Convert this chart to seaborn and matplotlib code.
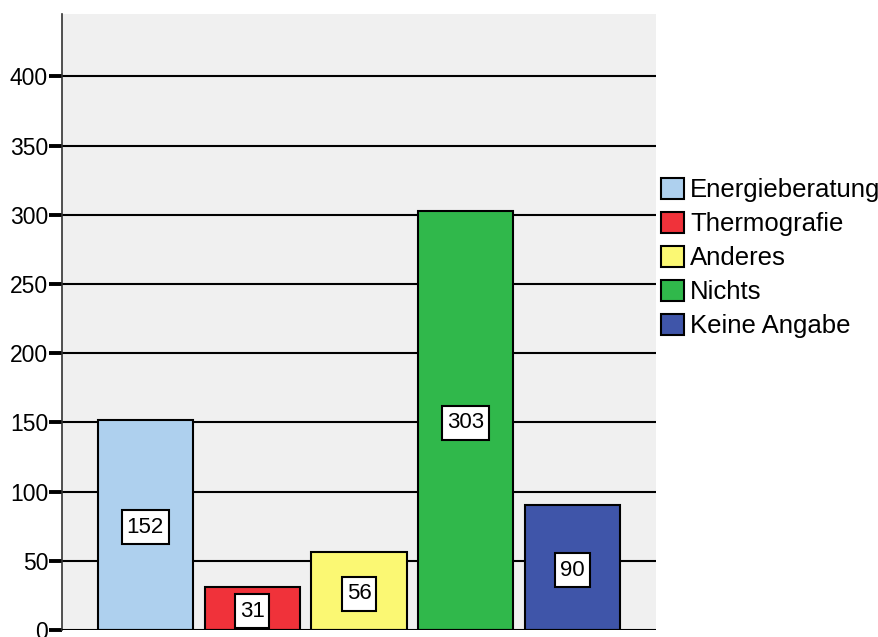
import matplotlib
matplotlib.use("Agg")
import matplotlib.pyplot as plt
import seaborn as sns
import pandas as pd
from matplotlib.patches import Patch
from matplotlib.path import Path

categories = ["Energieberatung", "Thermografie", "Anderes", "Nichts", "Keine Angabe"]
counts = [152, 31, 56, 303, 90]
colors = ["#AED0EE", "#F0323A", "#FBF873", "#30B84B", "#3F55A9"]
yticks = [0, 50, 100, 150, 200, 250, 300, 350, 400]

sns.set_style("white")
plt.rcParams["font.family"] = ["Liberation Sans", "DejaVu Sans"]
plt.rcParams["text.color"] = "black"
plt.rcParams["ytick.color"] = "black"
plt.rcParams["ytick.labelcolor"] = "black"

df = pd.DataFrame({"cat": categories, "n": counts})

fig = plt.figure(figsize=(8.79, 6.37), dpi=100)
ax = fig.add_axes([62 / 879, 1 - 630 / 637, (656 - 62) / 879, (630 - 14) / 637])
ax.set_facecolor("#F0F0F0")

sns.barplot(data=df, x="cat", y="n", hue="cat", palette=colors, dodge=False, saturation=1,
            width=0.89, edgecolor="black", linewidth=1.5, legend=False, ax=ax, zorder=3)

ax.set_xlim(-0.78, 4.78)
ax.set_ylim(0, 445)
ax.set_yticks(yticks)
ax.set_yticklabels([str(v) for v in yticks], fontsize=16.5)
ax.set_xticks([])
ax.set_xlabel("")
ax.set_ylabel("")
for y in yticks[1:]:
    ax.axhline(y, color="black", lw=1.5, zorder=1)
ax.axhline(0, color="black", lw=1.5, zorder=4)

ax.tick_params(axis="y", direction="out", length=9.5, width=2.8, color="black", pad=0.5, left=True)
for s in ["top", "right", "bottom"]:
    ax.spines[s].set_visible(False)
ax.spines["left"].set_color("#333333")
ax.spines["left"].set_linewidth(1.2)


def label_box(x0, y0, width, height, mutation_size):
    px = 0.22 * mutation_size
    py = 0.30 * mutation_size
    return Path([(x0 - px, y0 - py), (x0 + width + px, y0 - py),
                 (x0 + width + px, y0 + height + py), (x0 - px, y0 + height + py),
                 (x0 - px, y0 - py)], closed=True)


for i, v in enumerate(counts):
    ax.text(i, v / 2, str(v), ha="center", va="center_baseline", fontsize=16, zorder=5,
            bbox=dict(boxstyle=label_box, fc="white", ec="black", lw=1.5))

handles = [Patch(facecolor=c, edgecolor="black", linewidth=1.5) for c in colors]
leg = ax.legend(handles, categories, loc="upper left", bbox_to_anchor=(658 / 879, 1 - 175 / 637),
                bbox_transform=fig.transFigure, frameon=False, fontsize=18.5,
                handlelength=0.93, handleheight=0.93, handletextpad=0.22, labelspacing=0.36,
                borderaxespad=0, borderpad=0.1)

fig.savefig("out.png", dpi=100, facecolor="white")
